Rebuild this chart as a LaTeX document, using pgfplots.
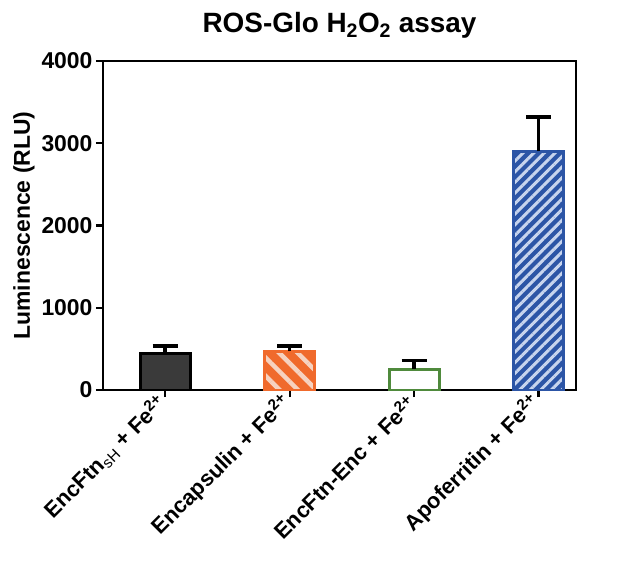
\documentclass[border=0pt]{standalone}
\usepackage{fontspec}
\setmainfont{Liberation Sans}
\usepackage{pgfplots}
\pgfplotsset{compat=1.18}
\usetikzlibrary{patterns.meta}

\definecolor{bardark}{HTML}{3A3A3A}
\definecolor{barorange}{HTML}{F06A2C}
\definecolor{stripeorange}{HTML}{F6D2C0}
\definecolor{bargreen}{HTML}{4F8A3C}
\definecolor{barblue}{HTML}{2C55A6}
\definecolor{stripeblue}{HTML}{C8D5EE}

\begin{document}
\begin{tikzpicture}
\begin{axis}[
  name=ax,
  scale only axis,
  width=473bp, height=329bp,
  xmin=-0.5, xmax=3.3,
  ymin=0, ymax=4000,
  xtick={0,1,2,3},
  xticklabels={EncFtn\textsubscript{\mdseries sH} + Fe\textsuperscript{2+},
               Encapsulin + Fe\textsuperscript{2+},
               EncFtn-Enc + Fe\textsuperscript{2+},
               Apoferritin + Fe\textsuperscript{2+}},
  ytick={0,1000,2000,3000,4000},
  x tick label style={rotate=45, anchor=east, font=\fontsize{22}{24}\selectfont\bfseries},
  y tick label style={font=\fontsize{23}{26}\selectfont\bfseries},
  /pgf/number format/assume math mode=true,
  /pgf/number format/1000 sep={},
  tick pos=left,
  tick align=outside,
  major tick length=7bp,
  axis line style={line width=2.4bp},
  tick style={line width=2.4bp, black},
  ylabel={Luminescence (RLU)},
  ylabel style={font=\fontsize{23}{26}\selectfont\bfseries},
  title={ROS-Glo H\textsubscript{2}O\textsubscript{2} assay},
  title style={font=\fontsize{28}{31}\selectfont\bfseries, yshift=13bp},
  ybar, bar width=50bp, bar shift=0pt,
  error bars/y dir=plus, error bars/y explicit,
  error bars/error bar style={line width=3.5bp, black},
  error bars/error mark options={rotate=90, line width=3.5bp, mark size=12.5bp, black},
]
\addplot[fill=bardark, draw=black, line width=3bp]
  coordinates {(0,440) +- (0,95)};
\addplot[fill=barorange, draw=barorange, line width=3bp,
  postaction={pattern={Lines[angle=-45, distance=13bp, line width=4.5bp]}, pattern color=stripeorange}]
  coordinates {(1,470) +- (0,65)};
\addplot[fill=white, draw=bargreen, line width=3bp]
  coordinates {(2,250) +- (0,110)};
\addplot[fill=barblue, draw=barblue, line width=3bp,
  postaction={pattern={Lines[angle=45, distance=7.5bp, line width=3bp]}, pattern color=stripeblue}]
  coordinates {(3,2900) +- (0,420)};
\end{axis}
\path (ax.south west) ++(-103bp,-180bp) rectangle ++(617bp,570bp);
\end{tikzpicture}
\end{document}
